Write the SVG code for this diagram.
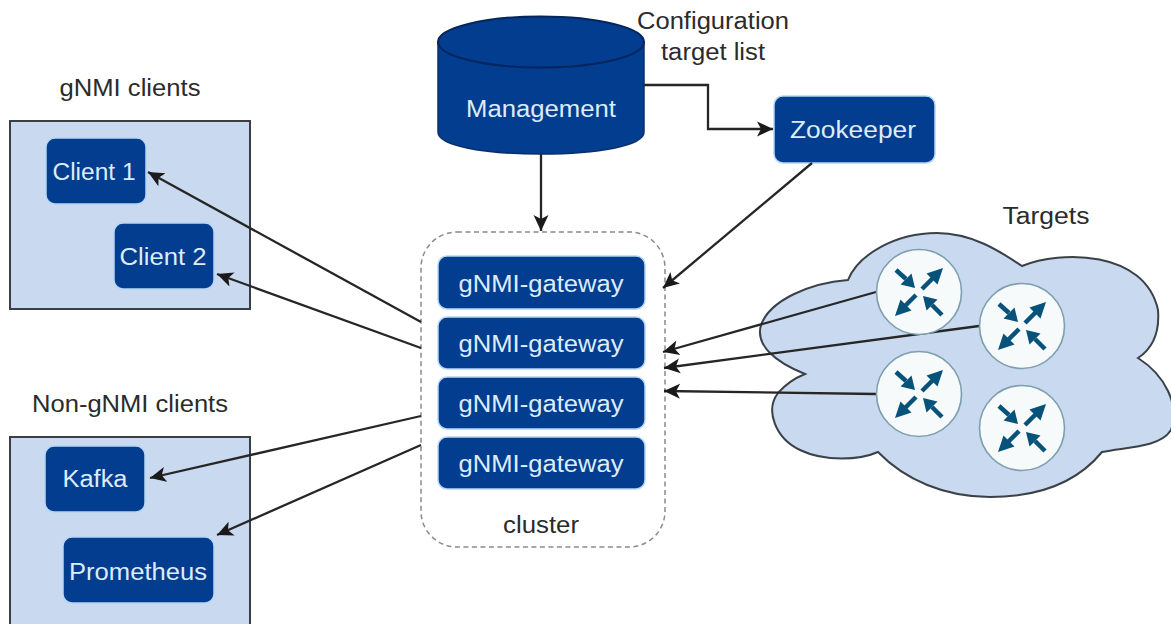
<svg xmlns="http://www.w3.org/2000/svg" width="1171" height="624" viewBox="0 0 1171 624">
<style>
text{font-family:"Liberation Sans",Arial,sans-serif;font-size:23.500px;text-anchor:middle}
.dark{fill:#2b2b2b}
.light{fill:#dcecfb}
.box{fill:#c9d9ef;stroke:#3a3f45;stroke-width:2}
.node{fill:#023d90;stroke:#b5d6f4;stroke-width:1.5}
.conn{fill:none;stroke:#262626;stroke-width:2.300;marker-end:url(#arrow)}
.router{fill:#f6fafb;stroke:#7d9fae;stroke-width:1.6}
.ic{fill:#07527a}
.ics{stroke:#07527a;stroke-width:4.5;fill:none}
</style>
<defs>
<marker id="arrow" markerUnits="userSpaceOnUse" markerWidth="20" markerHeight="17" refX="16" refY="7.500" orient="auto" viewBox="0 0 20 15">
<path d="M0 0L16 7.500L0 15L4 7.500Z" fill="#1a1a1a"/>
</marker>
<g id="icon">
<path class="ics" d="M-23-22L-13-13M3-3L14-14M-3 3L-14 14M23 23L13 13"/>
<path class="ic" d="M-4-4L-7.500-18.500L-18.500-7.500ZM24-24L7.500-18.500L18.500-7.500ZM-24 24L-18.500 7.500L-7.500 18.500ZM4 4L18.500 7.500L7.500 18.500Z"/>
</g>
</defs>

<g id="gnmi-clients">
<rect class="box" x="10" y="121" width="240" height="188"/>
<text class="dark" x="130" y="96" textLength="141" lengthAdjust="spacingAndGlyphs">gNMI clients</text>
</g>
<g id="client-1"><rect class="node" x="46" y="138" width="100" height="66" rx="9"/><text class="light" x="94" y="180" textLength="83" lengthAdjust="spacingAndGlyphs">Client 1</text></g>
<g id="client-2"><rect class="node" x="114" y="223" width="100" height="66" rx="9"/><text class="light" x="163" y="265" textLength="87" lengthAdjust="spacingAndGlyphs">Client 2</text></g>

<g id="non-gnmi-clients">
<rect class="box" x="10" y="437" width="240" height="200"/>
<text class="dark" x="130" y="412" textLength="196" lengthAdjust="spacingAndGlyphs">Non-gNMI clients</text>
</g>
<g id="kafka"><rect class="node" x="45" y="446" width="100" height="66" rx="9"/><text class="light" x="95" y="487" textLength="65" lengthAdjust="spacingAndGlyphs">Kafka</text></g>
<g id="prometheus"><rect class="node" x="63" y="537" width="151" height="66" rx="9"/><text class="light" x="138" y="580" textLength="138" lengthAdjust="spacingAndGlyphs">Prometheus</text></g>

<g id="management">
<path d="M438 42V132C438 146 484 154 541 154S644 146 644 132V42Z" fill="#023d90" stroke="#0a2f6b" stroke-width="1.5"/>
<ellipse cx="541" cy="42" rx="103" ry="25.500" fill="#023d90" stroke="#05265c" stroke-width="2"/>
<text class="light" x="541" y="117" textLength="150" lengthAdjust="spacingAndGlyphs">Management</text>
</g>
<g id="config-label">
<text class="dark" x="713" y="29" textLength="152" lengthAdjust="spacingAndGlyphs">Configuration</text>
<text class="dark" x="713" y="60" textLength="104" lengthAdjust="spacingAndGlyphs">target list</text>
</g>
<g id="zookeeper"><rect class="node" x="774" y="96" width="161" height="67" rx="9"/><text class="light" x="853" y="138" textLength="126" lengthAdjust="spacingAndGlyphs">Zookeeper</text></g>

<g id="cluster">
<rect x="421" y="232" width="244" height="315" rx="36" fill="#fff" stroke="#8b8b8b" stroke-width="1.500" stroke-dasharray="5 3.500"/>
<text class="dark" x="541" y="533" textLength="76" lengthAdjust="spacingAndGlyphs">cluster</text>
</g>
<g id="gateway-1"><rect class="node" x="438" y="256" width="207" height="53" rx="9"/><text class="light" x="541" y="292" textLength="165" lengthAdjust="spacingAndGlyphs">gNMI-gateway</text></g>
<g id="gateway-2"><rect class="node" x="438" y="317" width="207" height="52" rx="9"/><text class="light" x="541" y="352" textLength="165" lengthAdjust="spacingAndGlyphs">gNMI-gateway</text></g>
<g id="gateway-3"><rect class="node" x="438" y="377" width="207" height="52" rx="9"/><text class="light" x="541" y="412" textLength="165" lengthAdjust="spacingAndGlyphs">gNMI-gateway</text></g>
<g id="gateway-4"><rect class="node" x="438" y="437" width="207" height="52" rx="9"/><text class="light" x="541" y="472" textLength="165" lengthAdjust="spacingAndGlyphs">gNMI-gateway</text></g>

<g id="targets-cloud">
<path d="M1022 266C1060 250 1145 250 1158 310C1160 335 1150 350 1138 358C1165 375 1180 405 1171 430C1160 448 1125 447 1102 452C1075 485 1035 497 990 497C945 497 905 480 878 452C860 460 825 462 800 450C775 438 765 410 778 393C785 385 795 378 805 374C775 362 755 345 761 325C770 300 810 283 848 280C858 255 895 233 937 233C975 233 1005 255 1022 266Z" fill="#c9d9ef" stroke="#3a4148" stroke-width="2"/>
<text class="dark" x="1046" y="224" textLength="87" lengthAdjust="spacingAndGlyphs">Targets</text>
</g>

<g id="connectors">
<path class="conn" d="M541 154V231"/>
<path class="conn" d="M644 85H708V129H773"/>
<path class="conn" d="M812 163L663 288"/>
<path class="conn" d="M421 322L148 172"/>
<path class="conn" d="M421 348L217 274"/>
<path class="conn" d="M421 416L150 478"/>
<path class="conn" d="M421 445L217 535"/>
<path class="conn" d="M876 292L663 352"/>
<path class="conn" d="M979 326L664 368"/>
<path class="conn" d="M876 394L664 391"/>
</g>

<g id="router-1"><circle class="router" cx="919" cy="292" r="42.500"/><use href="#icon" x="919" y="292"/></g>
<g id="router-2"><circle class="router" cx="1022" cy="326" r="42.500"/><use href="#icon" x="1022" y="326"/></g>
<g id="router-3"><circle class="router" cx="919" cy="394" r="42.500"/><use href="#icon" x="919" y="394"/></g>
<g id="router-4"><circle class="router" cx="1022" cy="428" r="42.500"/><use href="#icon" x="1022" y="428"/></g>
</svg>
